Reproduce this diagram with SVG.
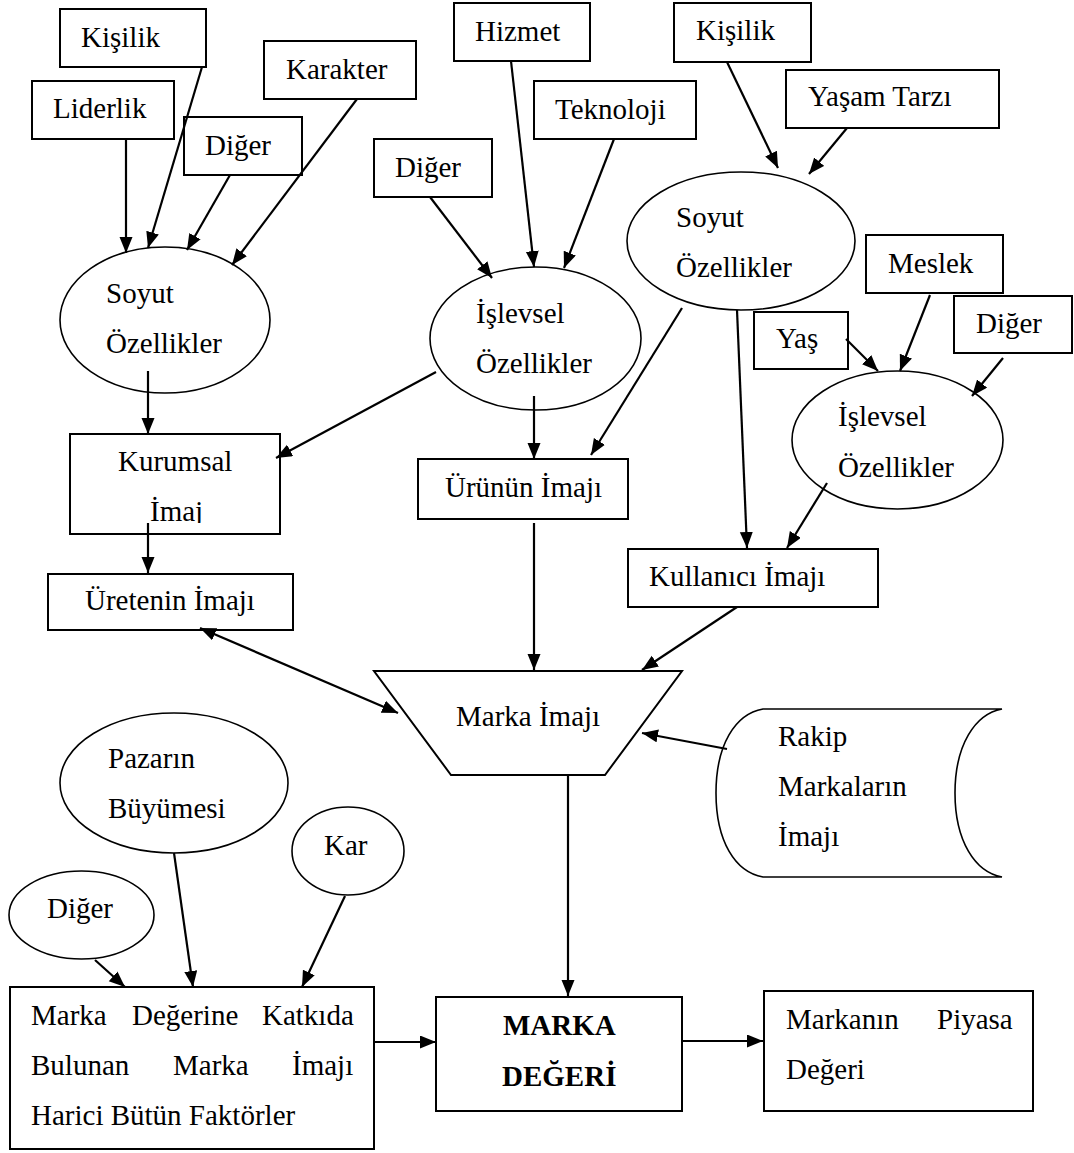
<svg xmlns="http://www.w3.org/2000/svg" width="1074" height="1153" viewBox="0 0 1074 1153">
  <style>
    .box { fill: #ffffff; stroke: #000000; stroke-width: 2; }
    .oval { fill: #ffffff; stroke: #000000; stroke-width: 1.6; }
    text { font-family: 'Liberation Serif', 'DejaVu Serif', serif; font-size: 29px; fill: #000000; }
    .bold { font-weight: bold; }
    .conn line { stroke: #000000; stroke-width: 2.2; marker-end: url(#arrow); }
    .conn line.both { marker-start: url(#arrow); }
  </style>
  <defs>
    <marker id="arrow" markerUnits="userSpaceOnUse" markerWidth="17" markerHeight="14" refX="16" refY="6.5" orient="auto-start-reverse">
      <path d="M0,0 L16,6.5 L0,13 Z" fill="#000000"/>
    </marker>
    <clipPath id="kurumsal-clip">
      <rect x="70" y="434" width="210" height="89"/>
    </clipPath>
  </defs>

  <g font-family="Liberation Serif, DejaVu Serif, serif">
  <!-- corporate image branch -->
  <g id="kisilik-1"><rect class="box" x="60" y="9" width="146" height="58"/><text x="81" y="47">Kişilik</text></g>
  <g id="liderlik"><rect class="box" x="32" y="81" width="142" height="58"/><text x="53" y="118">Liderlik</text></g>
  <g id="karakter"><rect class="box" x="264" y="41" width="152" height="58"/><text x="286" y="79">Karakter</text></g>
  <g id="diger-1"><rect class="box" x="184" y="117" width="118" height="58"/><text x="205" y="155">Diğer</text></g>
  <g id="soyut-1"><ellipse class="oval" cx="165" cy="320" rx="105" ry="73"/><text x="106" y="303">Soyut</text><text x="106" y="353">Özellikler</text></g>
  <g id="kurumsal"><rect class="box" x="70" y="434" width="210" height="100"/><text x="118" y="471">Kurumsal</text><text x="150" y="521" clip-path="url(#kurumsal-clip)">İmaj</text></g>
  <g id="uretenin"><rect class="box" x="48" y="574" width="245" height="56"/><text x="85" y="610">Üretenin İmajı</text></g>

  <!-- product image branch -->
  <g id="hizmet"><rect class="box" x="454" y="3" width="136" height="58"/><text x="475" y="41">Hizmet</text></g>
  <g id="teknoloji"><rect class="box" x="534" y="81" width="162" height="58"/><text x="555" y="119">Teknoloji</text></g>
  <g id="diger-2"><rect class="box" x="374" y="139" width="118" height="58"/><text x="395" y="177">Diğer</text></g>
  <g id="islevsel-1"><ellipse class="oval" cx="535.5" cy="338.5" rx="105.5" ry="71.5"/><text x="476" y="323">İşlevsel</text><text x="476" y="373">Özellikler</text></g>
  <g id="urunun"><rect class="box" x="418" y="459" width="210" height="60"/><text x="445" y="497">Ürünün İmajı</text></g>

  <!-- user image branch -->
  <g id="kisilik-2"><rect class="box" x="674" y="3" width="137" height="59"/><text x="696" y="40">Kişilik</text></g>
  <g id="yasam"><rect class="box" x="786" y="70" width="213" height="58"/><text x="808" y="106">Yaşam Tarzı</text></g>
  <g id="soyut-2"><ellipse class="oval" cx="741" cy="241" rx="114" ry="69"/><text x="676" y="227">Soyut</text><text x="676" y="277">Özellikler</text></g>
  <g id="meslek"><rect class="box" x="866" y="235" width="137" height="58"/><text x="888" y="273">Meslek</text></g>
  <g id="yas"><rect class="box" x="754" y="312" width="94" height="57"/><text x="776" y="348">Yaş</text></g>
  <g id="diger-3"><rect class="box" x="954" y="296" width="118" height="57"/><text x="976" y="333">Diğer</text></g>
  <g id="islevsel-2"><ellipse class="oval" cx="897.5" cy="440" rx="105.5" ry="69"/><text x="838" y="426">İşlevsel</text><text x="838" y="477">Özellikler</text></g>
  <g id="kullanici"><rect class="box" x="628" y="549" width="250" height="58"/><text x="649" y="586">Kullanıcı İmajı</text></g>

  <!-- brand image and competitors -->
  <g id="marka-imaji"><polygon class="box" points="374,671 682,671 605,775 451,775"/><text x="456" y="726">Marka İmajı</text></g>
  <g id="rakip"><path class="oval" d="M763,709 C735,714 716,745 716,793 C716,841 735,872 763,877 L1002,877 C975,872 955,841 955,793 C955,745 975,714 1002,709 Z"/><text x="778" y="746">Rakip</text><text x="778" y="796">Markaların</text><text x="778" y="846">İmajı</text></g>

  <!-- other factors -->
  <g id="pazarin"><ellipse class="oval" cx="174" cy="783" rx="114" ry="70"/><text x="108" y="768">Pazarın</text><text x="108" y="818">Büyümesi</text></g>
  <g id="kar"><ellipse class="oval" cx="348" cy="851" rx="56" ry="44"/><text x="324" y="855">Kar</text></g>
  <g id="diger-4"><ellipse class="oval" cx="81.5" cy="915" rx="72.5" ry="44"/><text x="47" y="918">Diğer</text></g>
  <g id="faktorler">
    <rect class="box" x="10" y="987" width="364" height="162"/>
    <text x="31" y="1025">Marka</text><text x="132" y="1025">Değerine</text><text x="262" y="1025">Katkıda</text>
    <text x="31" y="1075">Bulunan</text><text x="173" y="1075">Marka</text><text x="292" y="1075">İmajı</text>
    <text x="31" y="1125">Harici Bütün Faktörler</text>
  </g>
  <g id="marka-degeri"><rect class="box" x="436" y="997" width="246" height="114"/><text class="bold" x="503" y="1035">MARKA</text><text class="bold" x="502" y="1086">DEĞERİ</text></g>
  <g id="piyasa"><rect class="box" x="764" y="991" width="269" height="120"/><text x="786" y="1029">Markanın</text><text x="937" y="1029">Piyasa</text><text x="786" y="1079">Değeri</text></g>
  </g>

  <!-- connectors -->
  <g id="connectors" class="conn">
    <line x1="126" y1="139" x2="126" y2="253"/>
    <line x1="202" y1="67" x2="148" y2="248"/>
    <line x1="230" y1="175" x2="187" y2="250"/>
    <line x1="357" y1="99" x2="232" y2="265"/>
    <line x1="511" y1="61" x2="534" y2="267"/>
    <line x1="614" y1="139" x2="564" y2="268"/>
    <line x1="430" y1="197" x2="492" y2="278"/>
    <line x1="727" y1="62" x2="778" y2="168"/>
    <line x1="847" y1="128" x2="809" y2="174"/>
    <line x1="846" y1="339" x2="878" y2="371"/>
    <line x1="930" y1="295" x2="900" y2="371"/>
    <line x1="1003" y1="358" x2="972" y2="396"/>
    <line x1="148" y1="371" x2="148" y2="434"/>
    <line x1="436" y1="372" x2="276" y2="458"/>
    <line x1="534" y1="396" x2="534" y2="459"/>
    <line x1="682" y1="308" x2="591" y2="455"/>
    <line x1="737" y1="310" x2="747" y2="548"/>
    <line x1="827" y1="483" x2="787" y2="548"/>
    <line x1="148" y1="523" x2="148" y2="573"/>
    <line x1="534" y1="523" x2="534" y2="670"/>
    <line x1="737" y1="607" x2="642" y2="670"/>
    <line class="both" x1="200" y1="628" x2="398" y2="713"/>
    <line x1="727" y1="749" x2="642" y2="733"/>
    <line x1="568" y1="775" x2="568" y2="996"/>
    <line x1="95" y1="960" x2="125" y2="987"/>
    <line x1="174" y1="853" x2="193" y2="987"/>
    <line x1="345" y1="896" x2="302" y2="987"/>
    <line x1="374" y1="1042" x2="436" y2="1042"/>
    <line x1="682" y1="1041" x2="763" y2="1041"/>
  </g>
</svg>
